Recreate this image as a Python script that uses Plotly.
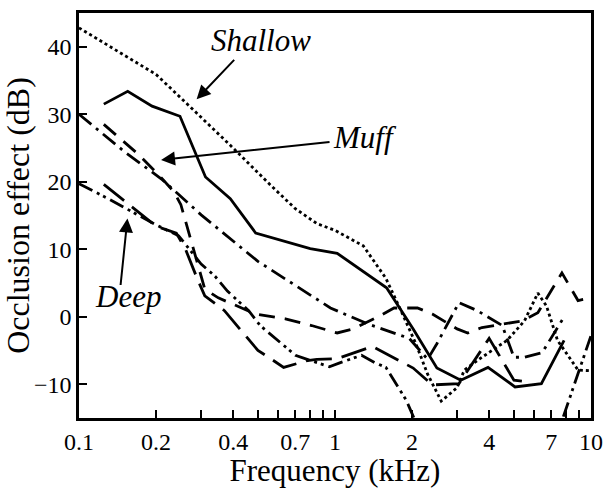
import plotly.graph_objects as go

# ---- data (frequency in kHz, occlusion effect in dB) ----
shallow_f = [0.1, 0.2, 0.26, 0.39, 0.56, 0.7, 0.85, 1.0, 1.29, 1.58, 1.78, 2.07, 2.3, 2.6, 3.0, 3.2, 3.75, 4.7, 5.5, 6.2, 6.7, 7.4, 8.9, 10]
shallow_v = [42.8, 35.9, 31.8, 25.4, 19.5, 16.0, 13.8, 12.8, 10.5, 5.7, 1.5, -4.0, -8.5, -12.5, -10.5, -7.9, -6.0, -3.5, -0.6, 3.5, 1.6, -3.5, -7.9, -8.0]

solid_f = [0.125, 0.155, 0.193, 0.248, 0.312, 0.39, 0.49, 0.8, 1.02, 1.25, 1.59, 2.02, 2.5, 3.1, 3.96, 5.05, 6.4, 7.85]
solid_v = [31.5, 33.4, 31.2, 29.7, 20.7, 17.5, 12.4, 10.1, 9.4, 7.1, 4.3, -1.8, -7.6, -9.4, -7.5, -10.4, -9.9, -3.5]

muffa_f = [0.1, 0.15, 0.21, 0.3, 0.5, 0.96, 1.33, 1.95, 2.3, 2.5, 3.05, 3.6, 4.5, 5.0, 5.5, 6.45, 7.8]
muffa_v = [30.0, 24.5, 20.4, 15.1, 8.2, 1.3, -1.0, -3.2, -6.3, -4.0, 2.1, 0.9, -1.3, -6.0, -6.0, -5.3, -0.2]

muffb_f = [0.125, 0.17, 0.205, 0.235, 0.25, 0.3, 0.31, 0.35, 0.49, 0.64, 0.81, 1.02, 1.18, 1.49, 1.7, 2.1, 2.4, 3.0, 3.3, 3.75, 5.4, 6.2, 7.0, 7.7, 8.9, 10]
muffb_v = [28.5, 24.1, 21.0, 18.5, 16.6, 6.0, 4.1, 2.8, 0.4, -0.3, -1.3, -2.4, -1.8, 0.1, 1.3, 1.3, 0.4, -1.8, -2.4, -1.6, -0.6, 0.6, 3.8, 6.5, 2.4, 2.8]

deepa_f = [0.1, 0.13, 0.2, 0.245, 0.3, 0.34, 0.38, 0.46, 0.51, 0.64, 0.7, 0.85, 0.95, 1.05, 1.27, 1.43, 1.58, 1.9, 2.2, 4.0, 7.0, 10]
deepa_v = [19.7, 17.5, 13.6, 12.0, 7.8, 6.0, 3.8, 0.9, -1.3, -4.5, -5.7, -6.8, -7.4, -6.8, -5.7, -6.8, -7.5, -12.4, -18.0, -22.0, -20.0, -2.8]

deepb_f = [0.125, 0.172, 0.2, 0.24, 0.26, 0.29, 0.31, 0.37, 0.44, 0.5, 0.55, 0.63, 0.78, 0.85, 1.02, 1.4, 2.02, 2.4, 3.05, 4.0, 5.0, 5.5]
deepb_v = [19.6, 15.3, 13.4, 12.4, 10.1, 5.6, 3.1, 0.9, -2.5, -5.0, -6.0, -7.5, -6.5, -6.3, -6.2, -4.4, -7.6, -10.1, -9.9, -3.2, -9.4, -9.6]

x_tickvals = [0.1, 0.2, 0.3, 0.4, 0.5, 0.6, 0.7, 0.8, 0.9, 1, 2, 3, 4, 5, 6, 7, 8, 9, 10]
x_ticktext = ["0.1", "0.2", "", "0.4", "", "", "0.7", "", "", "1", "2", "", "4", "", "", "7", "", "", "10"]
y_tickvals = [-10, 0, 10, 20, 30, 40]

FONT = "Times New Roman"

series = [
    (shallow_f, shallow_v, "3px,3px"),
    (solid_f, solid_v, "solid"),
    (muffa_f, muffa_v, "16px,6px,3px,6px"),
    (muffb_f, muffb_v, "16px,10px"),
    (deepa_f, deepa_v, "15px,5px,3px,4px,3px,5px"),
    (deepb_f, deepb_v, "26px,10px"),
]

fig = go.Figure()
for f, v, dash in series:
    fig.add_trace(go.Scatter(x=f, y=v, mode="lines",
                             line=dict(color="black", width=2.8, dash=dash),
                             showlegend=False, hoverinfo="skip"))

W, H = 613, 488
L, R, T, B = 79, 16, 10, 70
pw, ph = W - L - R, H - T - B

def px(xp):
    return (xp - L) / pw

def py(yp):
    return (H - B - yp) / ph

arrows = [((237, 56), (198, 97)), ((332, 140), (162, 158)), ((121, 285), (128, 217))]
for (tx, ty), (hx, hy) in arrows:
    fig.add_annotation(xref="paper", yref="paper", x=px(hx), y=py(hy),
                       ax=tx - hx, ay=ty - hy, axref="pixel", ayref="pixel",
                       text="", showarrow=True, arrowhead=2, arrowsize=1.4,
                       arrowwidth=2, arrowcolor="black")

labels = [("Shallow", 263, 38), ("Muff", 368, 135), ("Deep", 129, 296)]
for t, cx, cy in labels:
    fig.add_annotation(xref="paper", yref="paper", x=px(cx), y=py(cy),
                       text=t, showarrow=False,
                       xanchor="center", yanchor="middle",
                       font=dict(family=FONT, size=31, color="black", style="italic"))

fig.update_layout(
    width=W, height=H,
    margin=dict(l=L, r=R, t=T, b=B, pad=0),
    paper_bgcolor="white", plot_bgcolor="white",
    font=dict(family=FONT, size=24, color="black"),
    xaxis=dict(type="log", range=[-1, 1], tickvals=x_tickvals, ticktext=x_ticktext,
               ticks="inside", ticklen=8, tickwidth=2, tickcolor="black",
               showline=True, linewidth=2.5, linecolor="black", mirror=True,
               showgrid=False, zeroline=False,
               tickfont=dict(family=FONT, size=24, color="black"),
               title=dict(text="Frequency (kHz)", font=dict(family=FONT, size=31, color="black"), standoff=2)),
    yaxis=dict(range=[-15, 45], tickvals=y_tickvals,
               ticks="inside", ticklen=8, tickwidth=2, tickcolor="black",
               showline=True, linewidth=2.5, linecolor="black", mirror=True,
               showgrid=False, zeroline=False,
               tickfont=dict(family=FONT, size=24, color="black"),
               title=dict(text="Occlusion effect (dB)", font=dict(family=FONT, size=32, color="black"), standoff=0)),
)

fig.write_html("out.html")
